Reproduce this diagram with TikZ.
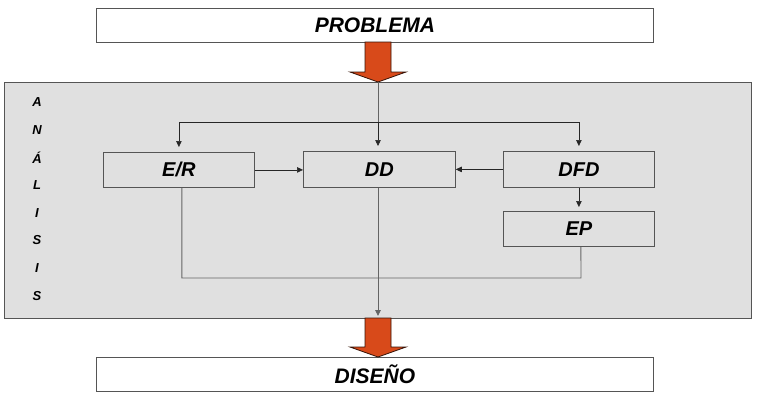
\documentclass[tikz,border=0pt]{standalone}
\usepackage{fontspec}
\usepackage{xcolor}
\usepackage{tikz}
\setmainfont{Liberation Sans}
\usetikzlibrary{calc}
\usetikzlibrary{arrows.meta}
\definecolor{panelgray}{RGB}{224,224,224}
\definecolor{boxgray}{RGB}{85,85,85}
\definecolor{linegray}{RGB}{100,100,100}
\definecolor{fatorange}{RGB}{216,74,26}
\tikzstyle{mybox} = [draw=boxgray, thick, rectangle, inner sep=0pt,
anchor=north west, font=\bfseries\itshape\fontsize{20}{22}\selectfont]
\tikzstyle{titlebox} = [mybox, fill=white, minimum width=557pt, minimum height=34pt,
font=\bfseries\itshape\fontsize{21}{23}\selectfont]
\tikzstyle{vletter} = [font=\bfseries\itshape\fontsize{13}{14}\selectfont, inner sep=0pt]
\tikzstyle{conn} = [draw=black!85, semithick, -{Triangle[length=6pt,width=5.5pt]}]
\tikzstyle{grayline} = [draw=linegray, line width=0.9pt]
\tikzstyle{fatarrow} = [draw=black!75!fatorange, fill=fatorange, thick, line join=miter]

\begin{document}
\begin{tikzpicture}[x=1pt, y=-1pt]
        \useasboundingbox (0,0) rectangle (758,400);
        % boxes
        \node [titlebox] (problema) at (96,8) {PROBLEMA};
        \node [mybox, fill=panelgray, minimum width=747pt, minimum height=236pt] (analisis) at (4,82) {};
        \node [titlebox] (diseno) at (96,357) {DISEÑO};
        \node [mybox, minimum width=151pt, minimum height=35pt] (er) at (103,152) {E/R};
        \node [mybox, minimum width=152pt, minimum height=36pt] (dd) at (303,151) {DD};
        \node [mybox, minimum width=151pt, minimum height=36pt] (dfd) at (503,151) {DFD};
        \node [mybox, minimum width=151pt, minimum height=35pt] (ep) at (503,211) {EP};
        \foreach \l [count=\i] in {A,N,Á,L,I,S,I,S}
            \node [vletter] (letra\i) at (37,{102+27.7*(\i-1)}) {\l};
        % fat arrows
        \coordinate (tipin) at (378,82);
        \coordinate (tipout) at (378,318);
        \draw [fatarrow] (365,42) -- (365,72) -- (350,72) -- (tipin) -- (406,72) -- (391,72) -- (391,42) -- cycle;
        \draw [fatarrow] (365,318) -- (365,347) -- (350,347) -- (378,357) -- (406,347) -- (391,347) -- (391,318) -- cycle;
        % connectors
        \coordinate (split) at (378,122);
        \draw [grayline] (tipin) -- (split);
        \draw [conn, shorten >=5pt] (split) -- (split |- dd.north);
        \draw [conn, shorten >=5pt] (split) -| (er.north);
        \draw [conn, shorten >=5pt] (split) -| (dfd.north);
        \draw [conn] (er.east) -- (er.east -| dd.west);
        \draw [conn] (dfd.west) -- (dfd.west -| dd.east);
        \draw [conn, shorten >=4pt] (dfd.south) -- (ep.north);
        \draw [grayline] ($(er.south)+(3,0)$) |- (581,278) -- ($(ep.south)+(2,0)$);
        \draw [grayline, -{Triangle[length=6pt,width=5.5pt]}, shorten >=2pt] (split |- dd.south) -- (tipout);
    \end{tikzpicture}
\end{document}
